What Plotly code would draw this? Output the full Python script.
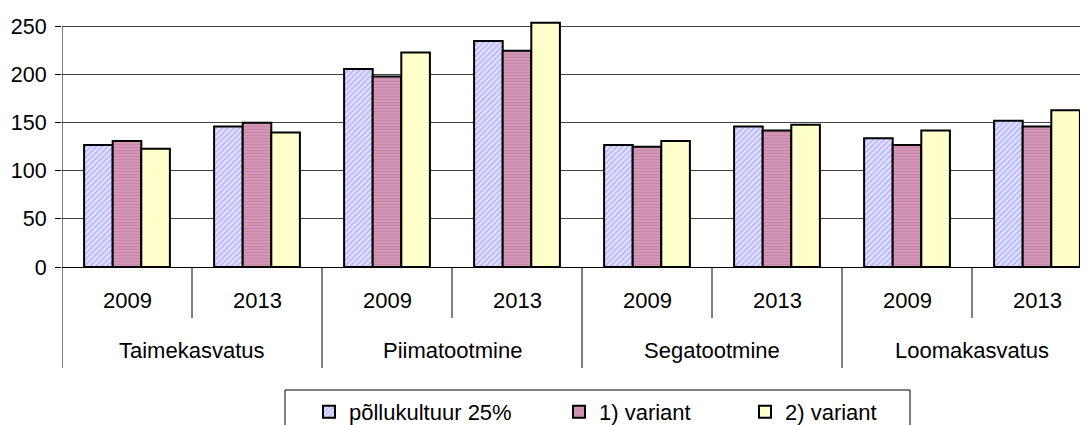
import plotly.graph_objects as go

groups = ["Taimekasvatus", "Taimekasvatus", "Piimatootmine", "Piimatootmine",
          "Segatootmine", "Segatootmine", "Loomakasvatus", "Loomakasvatus"]
years = ["2009", "2013", "2009", "2013", "2009", "2013", "2009", "2013"]

pollukultuur = [127, 146, 206, 235, 127, 146, 134, 152]
variant1 = [131, 150, 198, 225, 125, 142, 127, 146]
variant2 = [123, 140, 223, 254, 131, 148, 142, 163]

y_ticks = [0, 50, 100, 150, 200, 250]

FONT = "Liberation Sans, Arial, sans-serif"
W, H = 1088, 425
OFF = 8  # page body margin; positions below are in window pixels
xs = list(range(len(years)))

# plot area in window pixels: left 62, bottom 267, 250 px tall, runs past the right edge
PLOT_L, PLOT_B, PLOT_H = 62, 267, 250
PLOT_W = W - (PLOT_L - OFF)
CAT_W = 130


def px_x(px):
    return (px - PLOT_L) / PLOT_W


def px_y(py):
    return (PLOT_B - py) / PLOT_H


def cont_x(px):
    return (px - OFF) / W


def cont_y(py):
    return 1 - (py - OFF) / H


fig = go.Figure()
fig.add_trace(go.Bar(
    x=xs, y=pollukultuur, name="põllukultuur 25%", legend="legend",
    marker=dict(color="#dcdcff", line=dict(color="black", width=2),
                pattern=dict(shape="/", fgcolor="#8c8cff", bgcolor="#e6e6ff", size=4, solidity=0.5)),
))
fig.add_trace(go.Bar(
    x=xs, y=variant1, name="1) variant", legend="legend2",
    marker=dict(color="#d094b4", line=dict(color="black", width=2),
                pattern=dict(shape="-", fgcolor="#b87898", bgcolor="#d698b8", size=3, solidity=0.4)),
))
fig.add_trace(go.Bar(
    x=xs, y=variant2, name="2) variant", legend="legend3",
    marker=dict(color="#ffffcc", line=dict(color="black", width=2)),
))

legend_common = dict(orientation="h", xref="container", yref="container",
                     yanchor="middle", xanchor="left", y=cont_y(412),
                     font=dict(size=22), bgcolor="rgba(0,0,0,0)", borderwidth=0)

fig.update_layout(
    width=W, height=H,
    margin=dict(l=PLOT_L - OFF, r=0, t=PLOT_B - PLOT_H - OFF, b=H - (PLOT_B - OFF), autoexpand=False),
    paper_bgcolor="white", plot_bgcolor="white",
    font=dict(family=FONT, size=22, color="black"),
    barmode="group", bargap=0.34, bargroupgap=0,
    showlegend=True,
    legend=dict(x=cont_x(309), **legend_common),
    legend2=dict(x=cont_x(559), **legend_common),
    legend3=dict(x=cont_x(745), **legend_common),
)
fig.update_xaxes(
    range=[-0.5, -0.5 + PLOT_W / CAT_W], showticklabels=False, ticks="",
    showline=True, linecolor="black", linewidth=1,
    showgrid=False, zeroline=False, automargin=False,
)
fig.update_yaxes(
    range=[0, 260], tickvals=y_ticks, tickfont=dict(size=21.5),
    showline=False,
    ticks="outside", ticklen=6, tickcolor="black", ticklabelstandoff=4,
    showgrid=True, gridcolor="#404040", gridwidth=1,
    zeroline=False, automargin=False,
)

# y axis line up to 250 and category separators below the axis
fig.add_shape(type="line", xref="x", yref="y", x0=-0.5, x1=-0.5, y0=0, y1=250,
              line=dict(color="black", width=1))
for k in range(len(years)):
    new_group = k == 0 or groups[k] != groups[k - 1]
    fig.add_shape(type="line", xref="x", yref="paper", x0=k - 0.5, x1=k - 0.5,
                  y0=0, y1=px_y(368) if new_group else px_y(318),
                  line=dict(color="black", width=1))

for x, yr in zip(xs, years):
    fig.add_annotation(x=x, xref="x", y=px_y(300), yref="paper", yanchor="middle",
                       text=yr, showarrow=False, font=dict(size=22))
for g in dict.fromkeys(groups):
    idx = [i for i, gg in enumerate(groups) if gg == g]
    fig.add_annotation(x=sum(idx) / len(idx), xref="x", y=px_y(350), yref="paper", yanchor="middle",
                       text=g, showarrow=False, font=dict(size=22))

# legend frame
fig.add_shape(type="rect", xref="paper", yref="paper",
              x0=px_x(285), x1=px_x(910), y0=px_y(440), y1=px_y(390),
              line=dict(color="black", width=1), fillcolor="rgba(0,0,0,0)")

fig.write_html("out.html")
